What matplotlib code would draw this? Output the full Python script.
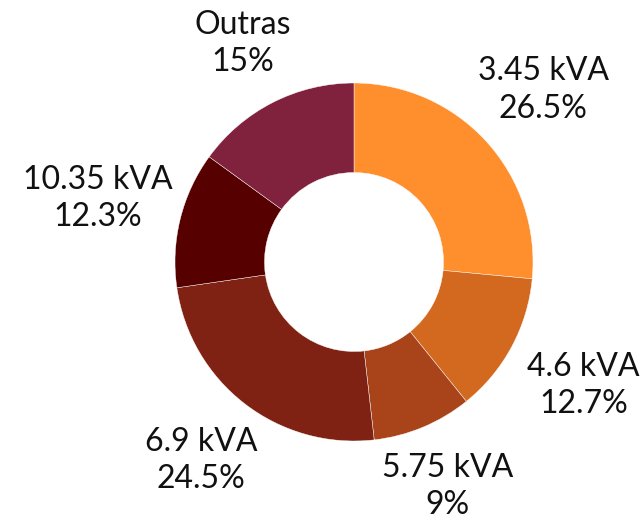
import numpy as np
import matplotlib
matplotlib.use("Agg")
import matplotlib.pyplot as plt

labels = ["3.45 kVA", "4.6 kVA", "5.75 kVA", "6.9 kVA", "10.35 kVA", "Outras"]
shares = [26.5, 12.7, 9, 24.5, 12.3, 15]
pct_text = ["26.5%", "12.7%", "9%", "24.5%", "12.3%", "15%"]
colors = ["#FF8F2D", "#D3681F", "#A9431A", "#7F2213", "#560000", "#80213D"]

plt.rcParams["font.family"] = ["Lato", "DejaVu Sans"]

fig = plt.figure(figsize=(6.42, 5.2), dpi=100)
ax = fig.add_axes([0, 0, 1, 1])
ax.set_aspect("equal")
ax.axis("off")

wedges, _ = ax.pie(shares, colors=colors, startangle=90, counterclock=False,
                   radius=1, wedgeprops=dict(width=0.5, linewidth=0.3, edgecolor="white"))

for w, lab, pt in zip(wedges, labels, pct_text):
    mid = np.deg2rad((w.theta1 + w.theta2) / 2)
    d = 1.28 + 0.2 * abs(np.cos(mid))
    ax.text(d * np.cos(mid), d * np.sin(mid), lab + "\n" + pt, ha="center", va="center",
            multialignment="center", fontsize=23, color="#111111", linespacing=1.3)

s = 179
ax.set_xlim(-354 / s, (642 - 354) / s)
ax.set_ylim(-258 / s, 262 / s)

fig.savefig("out.png", dpi=100)
